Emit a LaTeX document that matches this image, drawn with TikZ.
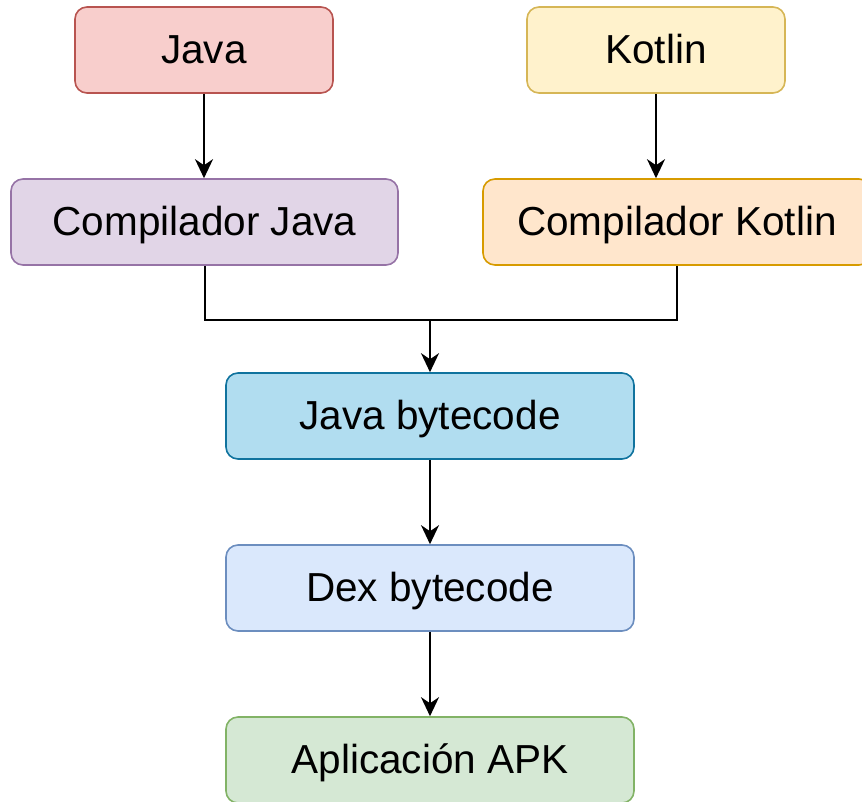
\documentclass[tikz,border=0pt]{standalone}
\usepackage{fontspec}
\setmainfont{Liberation Sans}
\usetikzlibrary{arrows.meta}
\definecolor{redfill}{HTML}{F8CECC}\definecolor{redline}{HTML}{B85450}
\definecolor{yelfill}{HTML}{FFF2CC}\definecolor{yelline}{HTML}{D6B656}
\definecolor{purfill}{HTML}{E1D5E7}\definecolor{purline}{HTML}{9673A6}
\definecolor{orafill}{HTML}{FFE6CC}\definecolor{oraline}{HTML}{D79B00}
\definecolor{cyafill}{HTML}{B1DDF0}\definecolor{cyaline}{HTML}{10739E}
\definecolor{blufill}{HTML}{DAE8FC}\definecolor{bluline}{HTML}{6C8EBF}
\definecolor{grefill}{HTML}{D5E8D4}\definecolor{greline}{HTML}{82B366}
\begin{document}
\begin{tikzpicture}[x=1pt,y=-1pt,
  box/.style={draw, line width=1.6pt, rounded corners=12pt, minimum height=86pt,
    inner sep=0pt, text height=27.5pt, text depth=0pt,
    font=\fontsize{40.5}{48}\selectfont},
  conn/.style={line width=2pt, -{Stealth[length=19pt,width=18pt,inset=6pt]}},
  plain/.style={line width=2pt}]
\useasboundingbox (0,0) rectangle (862,801);
\node[box, fill=redfill, draw=redline, minimum width=258pt] (java) at (204,50) {Java};
\node[box, fill=yelfill, draw=yelline, minimum width=258pt] (kotlin) at (656,50) {Kotlin};
\node[box, fill=purfill, draw=purline, minimum width=387pt] (cjava) at (204.5,222) {Compilador Java};
\node[box, fill=orafill, draw=oraline, minimum width=388pt] (ckotlin) at (677,222) {Compilador Kotlin};
\node[box, fill=cyafill, draw=cyaline, minimum width=408pt] (jbc) at (430,416) {Java bytecode};
\node[box, fill=blufill, draw=bluline, minimum width=408pt] (dex) at (430,588) {Dex bytecode};
\node[box, fill=grefill, draw=greline, minimum width=408pt] (apk) at (430,760) {Aplicación APK};
\coordinate (m) at (430,320);
\draw[conn] (java.south) -- (java.south |- cjava.north);
\draw[conn] (kotlin.south) -- (kotlin.south |- ckotlin.north);
\draw[plain] (cjava.south) |- (m);
\draw[plain] (ckotlin.south) |- (m);
\draw[conn] (m) -- (jbc.north);
\draw[conn] (jbc) -- (dex);
\draw[conn] (dex) -- (apk);
\end{tikzpicture}
\end{document}
